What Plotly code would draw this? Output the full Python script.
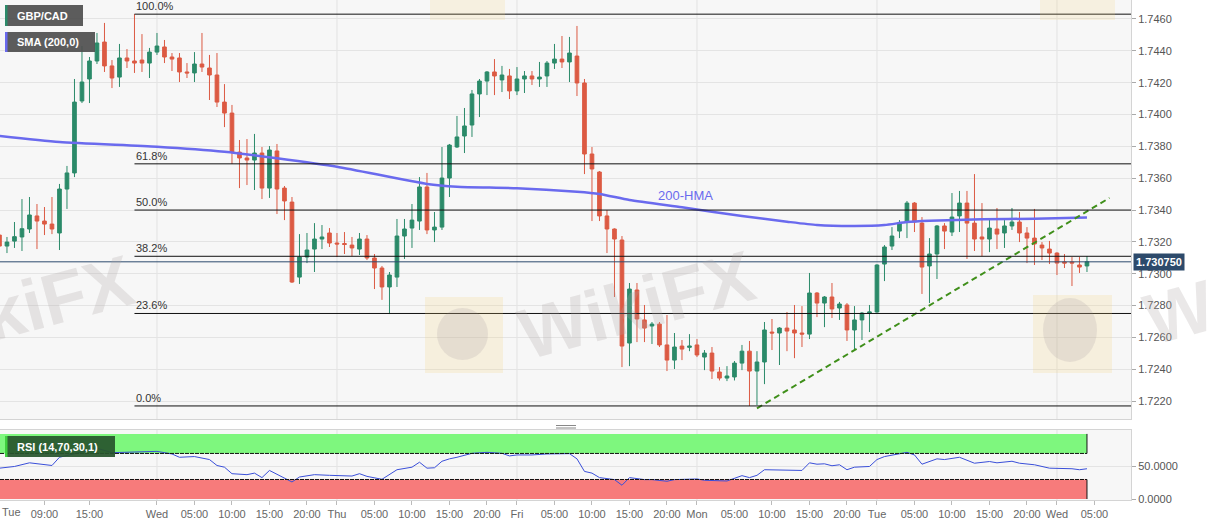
import plotly.graph_objects as go

# ---------------- data ----------------
symbol = "GBP/CAD"
bar_index = list(range(-21, 125))  # hourly bars, 0 = Wed 00:00

open_p = [1.73243,1.73174,1.73205,1.73231,1.73281,1.73363,1.73331,1.73312,1.73256,1.73532,
          1.73633,1.74085,1.74223,1.74336,1.74455,1.74305,1.74235,1.74355,1.74336,1.74342,
          1.74323,1.74392,1.74424,1.74361,1.74355,1.74267,1.74261,1.74317,1.74292,1.74248,
          1.74078,1.74009,1.73764,1.73727,1.73714,1.73758,1.73538,1.73771,1.73538,1.73450,
          1.72979,1.73105,1.73155,1.73218,1.73256,1.73193,1.73190,1.73180,1.73155,1.73218,
          1.73099,1.73036,1.72917,1.72979,1.73237,1.73287,1.73331,1.73545,1.73275,1.73293,
          1.73601,1.73796,1.73865,1.73934,1.74129,1.74210,1.74267,1.74217,1.74242,1.74148,
          1.74223,1.74242,1.74223,1.74242,1.74323,1.74348,1.74330,1.74367,1.74198,1.73752,
          1.73639,1.73363,1.73281,1.73212,1.72565,1.72898,1.72710,1.72672,1.72684,1.72553,
          1.72458,1.72546,1.72538,1.72553,1.72477,1.72502,1.72383,1.72345,1.72352,1.72439,
          1.72514,1.72389,1.72446,1.72634,1.72628,1.72659,1.72647,1.72628,1.72621,1.72879,
          1.72816,1.72854,1.72785,1.72804,1.72647,1.72710,1.72753,1.72760,1.73061,1.73174,
          1.73268,1.73325,1.73444,1.73318,1.73049,1.73124,1.73300,1.73262,1.73363,1.73444,
          1.73318,1.73231,1.73218,1.73281,1.73256,1.73300,1.73325,1.73256,1.73224,1.73180,
          1.73155,1.73130,1.73074,1.73074,1.73055,1.73049]
high_p = [1.73256,1.73231,1.73325,1.73469,1.73482,1.73438,1.73419,1.73482,1.73564,1.73677,
          1.74223,1.74430,1.74361,1.74512,1.74575,1.74342,1.74443,1.74411,1.74630,1.74505,
          1.74418,1.74512,1.74468,1.74386,1.74386,1.74323,1.74392,1.74512,1.74374,1.74386,
          1.74191,1.74060,1.73840,1.73846,1.73878,1.73796,1.73802,1.73815,1.73551,1.73482,
          1.73249,1.73256,1.73318,1.73306,1.73287,1.73256,1.73262,1.73231,1.73256,1.73243,
          1.73124,1.73049,1.73011,1.73344,1.73344,1.73438,1.73607,1.73633,1.73388,1.73796,
          1.73815,1.73991,1.74041,1.74154,1.74223,1.74273,1.74348,1.74305,1.74286,1.74298,
          1.74273,1.74273,1.74330,1.74336,1.74443,1.74493,1.74487,1.74556,1.74223,1.73796,
          1.73645,1.73400,1.73285,1.73237,1.72942,1.72942,1.72804,1.72697,1.72697,1.72741,
          1.72628,1.72584,1.72621,1.72590,1.72521,1.72540,1.72414,1.72420,1.72452,1.72553,
          1.72578,1.72514,1.72697,1.72716,1.72665,1.72760,1.72804,1.72797,1.73005,1.72885,
          1.72860,1.72942,1.72823,1.72816,1.72797,1.72760,1.72804,1.73060,1.73180,1.73293,
          1.73337,1.73457,1.73450,1.73356,1.73224,1.73306,1.73318,1.73507,1.73520,1.73520,
          1.73626,1.73444,1.73350,1.73413,1.73337,1.73413,1.73388,1.73293,1.73407,1.73199,
          1.73206,1.73135,1.73124,1.73105,1.73105,1.73111]
low_p = [1.73130,1.73130,1.73162,1.73143,1.73256,1.73155,1.73243,1.73249,1.73149,1.73407,
         1.73607,1.74072,1.74072,1.74317,1.74267,1.74166,1.74173,1.74292,1.74261,1.74267,
         1.74229,1.74374,1.74323,1.74273,1.74204,1.74229,1.74204,1.74267,1.74091,1.74047,
         1.73921,1.73689,1.73538,1.73557,1.73526,1.73469,1.73476,1.73375,1.73337,1.72942,
         1.72936,1.73067,1.73011,1.73155,1.73168,1.73105,1.73124,1.73111,1.73118,1.73086,
         1.72904,1.72836,1.72747,1.72917,1.73093,1.73162,1.73275,1.73249,1.73199,1.73275,
         1.73482,1.73790,1.73758,1.73859,1.73984,1.74122,1.74122,1.74141,1.74097,1.74122,
         1.74135,1.74185,1.74173,1.74173,1.74286,1.74292,1.74204,1.74116,1.73626,1.73331,
         1.73331,1.73130,1.72854,1.72414,1.72420,1.72571,1.72571,1.72559,1.72540,1.72389,
         1.72402,1.72458,1.72514,1.72477,1.72395,1.72339,1.72330,1.72326,1.72330,1.72395,
         1.72170,1.72175,1.72307,1.72521,1.72427,1.72514,1.72470,1.72540,1.72590,1.72728,
         1.72665,1.72722,1.72710,1.72578,1.72521,1.72584,1.72634,1.72755,1.72954,1.73149,
         1.73224,1.73224,1.73262,1.72873,1.72816,1.72967,1.73155,1.73237,1.73262,1.73093,
         1.73143,1.73111,1.73136,1.73155,1.73162,1.73275,1.73199,1.73067,1.73055,1.73086,
         1.73061,1.72992,1.73036,1.72923,1.73005,1.73011]
close_p = [1.73174,1.73199,1.73233,1.73283,1.73369,1.73331,1.73312,1.73281,1.73532,1.73633,
           1.74078,1.74204,1.74336,1.74449,1.74305,1.74229,1.74355,1.74336,1.74323,1.74323,
           1.74392,1.74430,1.74361,1.74348,1.74267,1.74261,1.74317,1.74298,1.74248,1.74078,
           1.74009,1.73764,1.73727,1.73714,1.73758,1.73538,1.73777,1.73532,1.73457,1.72948,
           1.73105,1.73149,1.73218,1.73231,1.73193,1.73187,1.73184,1.73162,1.73218,1.73099,
           1.73036,1.72917,1.72992,1.73237,1.73281,1.73337,1.73545,1.73275,1.73293,1.73601,
           1.73808,1.73859,1.73928,1.74129,1.74210,1.74267,1.74242,1.74248,1.74148,1.74223,
           1.74242,1.74223,1.74235,1.74323,1.74348,1.74330,1.74386,1.74198,1.73752,1.73658,
           1.73363,1.73281,1.73218,1.72546,1.72904,1.72716,1.72659,1.72684,1.72553,1.72458,
           1.72540,1.72527,1.72546,1.72490,1.72502,1.72389,1.72345,1.72358,1.72439,1.72514,
           1.72389,1.72446,1.72647,1.72628,1.72659,1.72640,1.72628,1.72621,1.72879,1.72816,
           1.72854,1.72779,1.72810,1.72647,1.72710,1.72753,1.72760,1.73055,1.73168,1.73237,
           1.73318,1.73444,1.73325,1.73042,1.73124,1.73300,1.73268,1.73356,1.73444,1.73318,
           1.73218,1.73218,1.73287,1.73249,1.73300,1.73325,1.73256,1.73224,1.73187,1.73162,
           1.73130,1.73067,1.73067,1.73067,1.73042,1.73075]

sma_idx = [-21, -13, 0, 9, 16, 24, 36, 40, 48, 56, 59, 63, 70, 78, 84, 88, 93, 97, 100, 103, 110, 117, 124]
sma_val = [1.73865, 1.73827, 1.73798, 1.73766, 1.73725, 1.73672, 1.73564, 1.73547, 1.73537, 1.73515,
           1.73501, 1.73463, 1.73417, 1.73363, 1.73327, 1.73306, 1.73300, 1.73306, 1.73325, 1.73333,
           1.73342, 1.73346, 1.73354]

rsi_idx = [-21,-19,-17,-14,-13,-11,-8,-6,-3,0,2,3,5,7,8,9,10,12,13,14,15,16,18,19,21,23,26,27,28,30,
           32,34,35,36,37,38,39,40,42,44,46,47,48,50,52,55,56,57,58,59,61,62,63,65,66,68,69,72,73,76,
           78,79,80,81,83,86,87,88,89,90,91,92,93,95,96,97,100,101,102,104,105,107,109,111,112,114,115,
           117,119,122,123,124]
rsi_val = [47.4,50.0,55.6,51.5,64.1,69.2,78.0,71.2,71.7,73.2,69.2,64.1,65.2,60.6,51.5,48.9,38.9,37.4,39.8,32.9,
           43.9,37.9,26.2,33.8,37.4,36.4,35.3,38.9,34.8,30.3,45.0,48.9,56.5,47.4,48.0,58.0,61.7,64.1,70.2,71.7,
           70.2,66.2,67.7,67.7,69.2,69.7,61.7,42.4,39.8,32.9,29.8,21.2,32.9,29.8,29.8,27.3,29.8,30.8,28.8,27.7,
           35.9,32.9,36.4,45.0,45.0,43.9,55.6,53.5,54.1,51.1,52.6,45.0,48.9,50.0,60.6,65.2,71.7,67.7,53.5,61.7,
           60.6,64.1,55.0,57.6,55.6,58.0,55.0,52.6,47.4,46.5,45.0,46.5]
rsi_levels = [30, 70]

fib_high = 1.7463
fib_low = 1.7217
fib_start = -3
fib_ratios = [1.0, 0.618, 0.5, 0.382, 0.236, 0.0]
fib_labels = ["100.0%", "61.8%", "50.0%", "38.2%", "23.6%", "0.0%"]

trend_idx = [80, 127]
trend_val = [1.72155, 1.73476]

last_price = 1.73075

tick_idx = [-15, -9, 0, 5, 10, 15, 20, 24, 29, 34, 39, 44, 48, 53, 58, 63, 68, 72, 77, 82, 87, 92,
            96, 101, 106, 111, 116, 120, 125]
tick_txt = ["09:00", "15:00", "Wed", "05:00", "10:00", "15:00", "20:00", "Thu", "05:00", "10:00",
            "15:00", "20:00", "Fri", "05:00", "10:00", "15:00", "20:00", "Mon", "05:00", "10:00",
            "15:00", "20:00", "Tue", "05:00", "10:00", "15:00", "20:00", "Wed", "05:00"]
first_day_label = "Tue"
price_ticks = [1.7220, 1.7240, 1.7260, 1.7280, 1.7300, 1.7320, 1.7340, 1.7360, 1.7380, 1.7400,
               1.7420, 1.7440, 1.7460]
rsi_ticks = [0, 50]

# ---------------- styling ----------------
GREEN = "#2b8a69"
RED = "#dc5a43"
SMA_C = "#6a6aee"
FONT = "Liberation Sans, Arial, sans-serif"
W, H = 1207, 526
ML, MR, MT, MB = 0, 76, 0, 26
PW, PH = W - ML - MR, H - MT - MB
X_RANGE = [-20.93, 129.87]
Y_RANGE = [1.72088, 1.74719]
RSI_RANGE = [-1.5, 106]


def px(x):
    return (x - ML) / PW


def py(y):
    return 1 - (y - MT) / PH


fig = go.Figure()

fig.add_trace(go.Candlestick(
    x=bar_index, open=open_p, high=high_p, low=low_p, close=close_p,
    xaxis="x", yaxis="y", whiskerwidth=0, showlegend=False, hoverinfo="skip",
    increasing=dict(line=dict(color=GREEN, width=1), fillcolor=GREEN),
    decreasing=dict(line=dict(color=RED, width=1), fillcolor=RED)))

fig.add_trace(go.Scatter(x=sma_idx, y=sma_val, mode="lines", xaxis="x", yaxis="y",
                         line=dict(color=SMA_C, width=2.5, shape="spline", smoothing=0.6),
                         showlegend=False, hoverinfo="skip"))

fig.add_trace(go.Scatter(x=trend_idx, y=trend_val, mode="lines", xaxis="x", yaxis="y",
                         line=dict(color="#3f8f1a", width=2, dash="6px,4px"),
                         showlegend=False, hoverinfo="skip"))

fig.add_trace(go.Scatter(x=rsi_idx, y=rsi_val, mode="lines", xaxis="x2", yaxis="y2",
                         line=dict(color="#3a4fd9", width=1), showlegend=False, hoverinfo="skip"))

shapes = []
annotations = []

# day separators
day_idx = [v for v, t in zip(tick_idx, tick_txt) if ":" not in t]
for d in day_idx:
    for xr, yr in (("x", "y domain"), ("x2", "y2 domain")):
        shapes.append(dict(type="line", xref=xr, yref=yr, x0=d, x1=d, y0=0, y1=1,
                           line=dict(color="#e2e2e2", width=1), layer="below"))

# fibonacci levels
for r, lab in zip(fib_ratios, fib_labels):
    lvl = fib_low + r * (fib_high - fib_low)
    shapes.append(dict(type="line", xref="x", yref="y", x0=fib_start, x1=X_RANGE[1], y0=lvl, y1=lvl,
                       line=dict(color="#111111", width=1)))
    annotations.append(dict(x=fib_start, y=lvl, xref="x", yref="y", text=lab, showarrow=False,
                            xanchor="left", yanchor="bottom", font=dict(size=11, color="#333", family=FONT)))

# last price line + label
shapes.append(dict(type="line", xref="x", yref="y", x0=X_RANGE[0], x1=X_RANGE[1], y0=last_price, y1=last_price,
                   line=dict(color="#2d4b6e", width=1)))
annotations.append(dict(x=1, xref="paper", y=last_price, yref="y", text="<b>%.6f</b>" % last_price,
                        showarrow=False, xanchor="left", xshift=2, bgcolor="#2d4a6b", borderpad=2,
                        font=dict(size=11, color="white", family=FONT)))

# RSI bands
last_bar = bar_index[-1]
shapes.append(dict(type="rect", xref="x2", yref="y2", x0=X_RANGE[0], x1=last_bar, y0=rsi_levels[1], y1=100,
                   fillcolor="#7ef77e", line=dict(width=0), layer="below"))
shapes.append(dict(type="rect", xref="x2", yref="y2", x0=X_RANGE[0], x1=last_bar, y0=0, y1=rsi_levels[0],
                   fillcolor="#f77b7b", line=dict(width=0), layer="below"))
for lv in rsi_levels:
    shapes.append(dict(type="line", xref="x2", yref="y2", x0=X_RANGE[0], x1=last_bar, y0=lv, y1=lv,
                       line=dict(color="#111", width=1, dash="4px,1px")))
shapes.append(dict(type="line", xref="x2", yref="y2", x0=last_bar, x1=last_bar, y0=rsi_levels[1], y1=100,
                   line=dict(color="#111", width=1)))
shapes.append(dict(type="line", xref="x2", yref="y2", x0=last_bar, x1=last_bar, y0=0, y1=rsi_levels[0],
                   line=dict(color="#111", width=1)))

# watermark logos (faint)
for (x0, y0, x1, y1, cx0, cy0, cx1, cy1) in [(425, 297, 503, 373, 437, 308, 488, 360),
                                              (1033, 295, 1112, 373, 1043, 298, 1097, 362)]:
    shapes.append(dict(type="rect", xref="paper", yref="paper", x0=px(x0), x1=px(x1), y0=py(y1), y1=py(y0),
                       fillcolor="rgba(245,212,120,0.2)", line=dict(width=0)))
    shapes.append(dict(type="circle", xref="paper", yref="paper", x0=px(cx0), x1=px(cx1), y0=py(cy1), y1=py(cy0),
                       fillcolor="rgba(140,130,140,0.16)", line=dict(width=0)))
for (x0, x1) in [(430, 505), (1040, 1115)]:
    shapes.append(dict(type="rect", xref="paper", yref="paper", x0=px(x0), x1=px(x1), y0=py(20), y1=py(0),
                       fillcolor="rgba(245,212,120,0.18)", line=dict(width=0)))

for (cx, cy, txt) in [(58, 298, "kiFX"), (636, 305, "WikiFX"), (1188, 310, "Wi")]:
    annotations.append(dict(x=px(cx), y=py(cy), xref="paper", yref="paper", text="<b>%s</b>" % txt,
                            showarrow=False, textangle=-15, xanchor="center", yanchor="middle",
                            font=dict(size=72, color="rgba(175,165,165,0.26)", family=FONT)))

# legend boxes
for (x0, y0, x1, y1, fill, edge, label) in [(5, 5, 83, 26, "rgba(78,78,78,0.92)", GREEN, symbol),
                                             (5, 32, 95, 52, "rgba(78,78,78,0.92)", SMA_C, "SMA (200,0)"),
                                             (5, 436, 115, 457, "rgba(40,85,45,0.93)", "#3fcf3f", "RSI (14,70,30,1)")]:
    shapes.append(dict(type="rect", xref="paper", yref="paper", x0=px(x0), x1=px(x1), y0=py(y1), y1=py(y0),
                       fillcolor=fill, line=dict(width=0)))
    shapes.append(dict(type="rect", xref="paper", yref="paper", x0=px(x0), x1=px(x0 + 2.5), y0=py(y1), y1=py(y0),
                       fillcolor=edge, line=dict(width=0)))
    annotations.append(dict(x=px(15), y=py((y0 + y1) / 2), xref="paper", yref="paper", text="<b>%s</b>" % label,
                            showarrow=False, xanchor="left", yanchor="middle",
                            font=dict(size=11, color="white", family=FONT)))

# 200-HMA label
annotations.append(dict(x=70.5, y=1.73494, xref="x", yref="y", text="200-HMA", showarrow=False,
                        font=dict(size=13, color=SMA_C, family=FONT)))

# first day label pinned at left
annotations.append(dict(x=0, y=py(512), xref="paper", yref="paper", text=first_day_label, showarrow=False,
                        xanchor="left", yanchor="middle", font=dict(size=11, color="#666", family=FONT)))

# panel resize handle
for yy in (425.5, 428):
    shapes.append(dict(type="line", xref="paper", yref="paper", x0=px(556), x1=px(576), y0=py(yy), y1=py(yy),
                       line=dict(color="#888", width=1)))

main_top, main_bot = 0, 419
rsi_top, rsi_bot = 430, 500

fig.update_layout(
    width=W, height=H,
    margin=dict(l=ML, r=MR, t=MT, b=MB, autoexpand=False),
    paper_bgcolor="white", plot_bgcolor="#f7f7f7",
    font=dict(family=FONT, size=11, color="#555"),
    showlegend=False,
    shapes=shapes, annotations=annotations,
    xaxis=dict(domain=[0, 1], range=X_RANGE, anchor="y", showticklabels=False, showgrid=False,
               zeroline=False, rangeslider=dict(visible=False), showline=True, mirror=True,
               linecolor="#d4d4d4", ticks=""),
    yaxis=dict(domain=[py(main_bot), py(main_top)], range=Y_RANGE, side="right", anchor="x",
               tickvals=price_ticks, tickformat=".4f", ticks="outside", ticklen=4, tickcolor="#aaa",
               showgrid=True, gridcolor="#e4e4e4", zeroline=False, showline=True, mirror=True,
               linecolor="#d4d4d4", tickfont=dict(size=11, color="#555")),
    xaxis2=dict(domain=[0, 1], range=X_RANGE, anchor="y2", matches="x", tickvals=tick_idx, ticktext=tick_txt,
                ticks="outside", ticklen=4, tickcolor="#bbb", showgrid=False, zeroline=False,
                showline=True, mirror=True, linecolor="#d4d4d4", tickfont=dict(size=11, color="#666")),
    yaxis2=dict(domain=[py(rsi_bot), py(rsi_top)], range=RSI_RANGE, side="right", anchor="x2",
                tickvals=rsi_ticks, ticktext=["%.4f" % v for v in rsi_ticks], ticks="outside", ticklen=4,
                tickcolor="#aaa", showgrid=True, gridcolor="#e4e4e4", zeroline=False, showline=True,
                mirror=True, linecolor="#d4d4d4", tickfont=dict(size=11, color="#555")),
)

fig.write_html("out.html", config={"displayModeBar": False},
               post_script="document.body.style.margin='0';document.body.style.overflow='hidden';")
